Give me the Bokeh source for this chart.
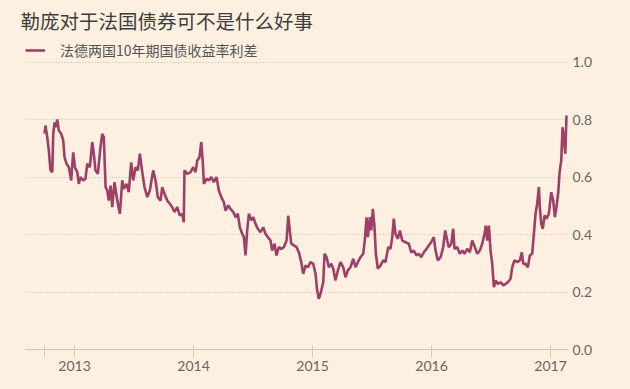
from bokeh.plotting import figure
from bokeh.models import (Range1d, FixedTicker, CustomJSTickFormatter, NumeralTickFormatter,
                          Legend, LegendItem)
from bokeh.embed import file_html
from bokeh.resources import INLINE
from jinja2 import Template

title_text = "勒庞对于法国债券可不是什么好事"
series_name = "法德两国10年期国债收益率利差"

# decimal years (time axis)
years = [
    2012.748, 2012.756, 2012.771, 2012.784, 2012.798, 2012.813, 2012.821, 2012.832, 2012.840, 2012.855,
    2012.868, 2012.888, 2012.905, 2012.916, 2012.933, 2012.952, 2012.972, 2012.989, 2013.003, 2013.023,
    2013.036, 2013.050, 2013.073, 2013.092, 2013.107, 2013.129, 2013.149, 2013.162, 2013.176, 2013.196,
    2013.218, 2013.233, 2013.246, 2013.261, 2013.275, 2013.288, 2013.303, 2013.317, 2013.336, 2013.359,
    2013.381, 2013.401, 2013.414, 2013.437, 2013.456, 2013.476, 2013.493, 2013.513, 2013.532, 2013.549,
    2013.569, 2013.588, 2013.611, 2013.633, 2013.661, 2013.681, 2013.700, 2013.723, 2013.737, 2013.756,
    2013.779, 2013.801, 2013.821, 2013.840, 2013.863, 2013.885, 2013.905, 2013.918,
    2013.924, 2013.947, 2013.975, 2013.997, 2014.017, 2014.031, 2014.050, 2014.065, 2014.078, 2014.087,
    2014.109, 2014.129, 2014.149, 2014.171, 2014.193, 2014.213, 2014.233, 2014.255, 2014.269, 2014.292,
    2014.311, 2014.334, 2014.353, 2014.372, 2014.389, 2014.409, 2014.423, 2014.437, 2014.451, 2014.465,
    2014.485, 2014.502, 2014.521, 2014.540, 2014.563, 2014.586, 2014.605, 2014.624, 2014.647, 2014.661,
    2014.681, 2014.697, 2014.717, 2014.737, 2014.759, 2014.782, 2014.796, 2014.809, 2014.821, 2014.843,
    2014.866, 2014.885, 2014.905, 2014.922, 2014.941, 2014.961, 2014.983, 2015.006, 2015.025, 2015.039,
    2015.053, 2015.067, 2015.090,
    2015.101, 2015.118, 2015.137, 2015.157, 2015.174, 2015.193, 2015.213, 2015.235, 2015.258, 2015.277,
    2015.297, 2015.319, 2015.342, 2015.361, 2015.381, 2015.403, 2015.426, 2015.439, 2015.454, 2015.465,
    2015.482, 2015.493, 2015.507, 2015.521, 2015.532, 2015.549, 2015.571, 2015.594, 2015.613, 2015.636,
    2015.655, 2015.670, 2015.683, 2015.697, 2015.717, 2015.734, 2015.754, 2015.782, 2015.809, 2015.829,
    2015.851, 2015.874, 2015.893, 2015.913, 2015.935, 2015.958, 2015.977, 2015.997, 2016.019, 2016.034,
    2016.053,
    2016.076, 2016.098, 2016.115, 2016.132, 2016.145, 2016.166, 2016.182, 2016.193, 2016.216, 2016.238,
    2016.258, 2016.277, 2016.300, 2016.322, 2016.342, 2016.364, 2016.384, 2016.406, 2016.426, 2016.445,
    2016.456, 2016.468, 2016.482, 2016.496, 2016.510, 2016.524, 2016.538, 2016.557, 2016.580, 2016.603,
    2016.622, 2016.641, 2016.664, 2016.678, 2016.697, 2016.720, 2016.742, 2016.759, 2016.771, 2016.790,
    2016.809, 2016.826, 2016.846, 2016.860, 2016.874, 2016.888, 2016.902, 2016.910, 2016.922, 2016.935,
    2016.950, 2016.966, 2016.986, 2017.006, 2017.023, 2017.036, 2017.050, 2017.065, 2017.076, 2017.090,
    2017.101, 2017.112, 2017.124, 2017.134,
]

# France-Germany 10y yield spread (percentage points)
spread = [
    0.751, 0.779, 0.738, 0.692, 0.623, 0.617, 0.750, 0.790, 0.773, 0.800,
    0.762, 0.750, 0.727, 0.669, 0.646, 0.634, 0.588, 0.686, 0.634, 0.617,
    0.576, 0.600, 0.588, 0.594, 0.646, 0.634, 0.721, 0.681, 0.623, 0.611,
    0.704, 0.750, 0.738, 0.565, 0.553, 0.518, 0.570, 0.495, 0.582, 0.518,
    0.472, 0.588, 0.559, 0.576, 0.547, 0.651, 0.588, 0.634, 0.623, 0.681,
    0.617, 0.565, 0.530, 0.553, 0.623, 0.588, 0.530, 0.518, 0.565, 0.542,
    0.518, 0.507, 0.495, 0.478, 0.495, 0.466, 0.472, 0.443,
    0.623, 0.611, 0.617, 0.634, 0.617, 0.657, 0.669, 0.721, 0.651, 0.576,
    0.594, 0.588, 0.600, 0.582, 0.600, 0.553, 0.530, 0.512, 0.483, 0.501,
    0.489, 0.478, 0.460, 0.472, 0.425, 0.402, 0.391, 0.327, 0.414, 0.472,
    0.449, 0.460, 0.437, 0.420, 0.408, 0.425, 0.402, 0.391, 0.379, 0.344,
    0.368, 0.327, 0.356, 0.350, 0.356, 0.379, 0.466, 0.414, 0.368, 0.362,
    0.356, 0.338, 0.304, 0.263, 0.292, 0.286, 0.304, 0.298, 0.263, 0.205,
    0.176, 0.194, 0.234,
    0.333, 0.321, 0.286, 0.298, 0.281, 0.240, 0.275, 0.304, 0.286, 0.251,
    0.275, 0.286, 0.315, 0.286, 0.304, 0.321, 0.333, 0.379, 0.460, 0.391,
    0.460, 0.414, 0.489, 0.425, 0.333, 0.281, 0.292, 0.310, 0.304, 0.356,
    0.350, 0.391, 0.455, 0.402, 0.385, 0.414, 0.379, 0.373, 0.368, 0.338,
    0.344, 0.327, 0.333, 0.321, 0.338, 0.350, 0.362, 0.373, 0.391, 0.344,
    0.310,
    0.321, 0.356, 0.414, 0.379, 0.356, 0.368, 0.420, 0.350, 0.356, 0.333,
    0.344, 0.333, 0.350, 0.338, 0.379, 0.356, 0.333, 0.344, 0.368, 0.402,
    0.431, 0.379, 0.431, 0.344, 0.298, 0.217, 0.240, 0.228, 0.234, 0.223,
    0.228, 0.234, 0.246, 0.286, 0.310, 0.304, 0.310, 0.338, 0.298, 0.298,
    0.286, 0.327, 0.333, 0.402, 0.472, 0.507, 0.565, 0.495, 0.437, 0.420,
    0.466, 0.455, 0.472, 0.547, 0.518, 0.460, 0.495, 0.547, 0.617, 0.657,
    0.773, 0.738, 0.681, 0.814,
]

x_ticks = [2012.75, 2013, 2014, 2015, 2016, 2017]
y_ticks = [0.0, 0.2, 0.4, 0.6, 0.8, 1.0]

BG = "#fdf0e1"
LINE = "#9d3f66"
TXT = "#6b6560"

p = figure(width=630, height=389, output_backend="svg", toolbar_location=None,
           x_range=Range1d(2012.588, 2017.151), y_range=Range1d(0, 1.0887),
           y_axis_location="right", min_border_left=25, min_border_right=62,
           min_border_top=36, min_border_bottom=40)
p.background_fill_color = BG
p.border_fill_color = BG
p.outline_line_color = None

r = p.line(years, spread, color=LINE, line_width=2.6)

# axes
xa = p.xaxis[0]
xa.ticker = FixedTicker(ticks=x_ticks)
xa.formatter = CustomJSTickFormatter(code="return Math.abs(tick - Math.round(tick)) < 1e-6 ? tick.toFixed(0) : '';")
xa.axis_line_color = "#cfc6bc"
xa.major_tick_line_color = "#cfc6bc"
xa.major_tick_in = 4
xa.major_tick_out = 8
xa.minor_tick_line_color = None
xa.major_label_standoff = 3
xa.major_label_text_font = "Lato"
xa.major_label_text_font_size = "14px"
xa.major_label_text_color = TXT

ya = p.yaxis[0]
ya.ticker = FixedTicker(ticks=y_ticks)
ya.formatter = NumeralTickFormatter(format="0.0")
ya.axis_line_color = None
ya.major_tick_line_color = None
ya.minor_tick_line_color = None
ya.major_tick_in = 0
ya.major_tick_out = 0
ya.major_label_standoff = 4
ya.major_label_text_font = "Lato"
ya.major_label_text_font_size = "14px"
ya.major_label_text_color = TXT

p.xgrid.grid_line_color = None
p.ygrid.ticker = FixedTicker(ticks=y_ticks)
p.ygrid.grid_line_color = "#c4b9ad"
p.ygrid.grid_line_dash = "1 2"
p.ygrid.grid_line_width = 1

# legend (top-left of the plot area)
legend = Legend(items=[LegendItem(label=series_name, renderers=[r])],
                location=(0, 289), orientation="horizontal",
                background_fill_alpha=0, border_line_color=None,
                padding=0, margin=0, spacing=0,
                glyph_width=20, glyph_height=14, label_height=14, label_standoff=15,
                label_text_font="Noto Sans CJK SC", label_text_font_size="14px",
                label_text_color="#555555")
p.add_layout(legend)

# title
p.title.text = title_text
p.title.align = "left"
p.title.offset = -5
p.title.standoff = 4
p.title.text_font = "Noto Sans CJK SC"
p.title.text_font_size = "19.5px"
p.title.text_font_style = "normal"
p.title.text_color = "#3d3d3d"

template = Template("""{% extends base %}
{% block preamble %}<style>html, body { margin: 0; padding: 0; overflow: hidden; background: #fdf0e1; }</style>{% endblock %}
""")

open("out.html", "w").write(file_html(p, INLINE, template=template))
